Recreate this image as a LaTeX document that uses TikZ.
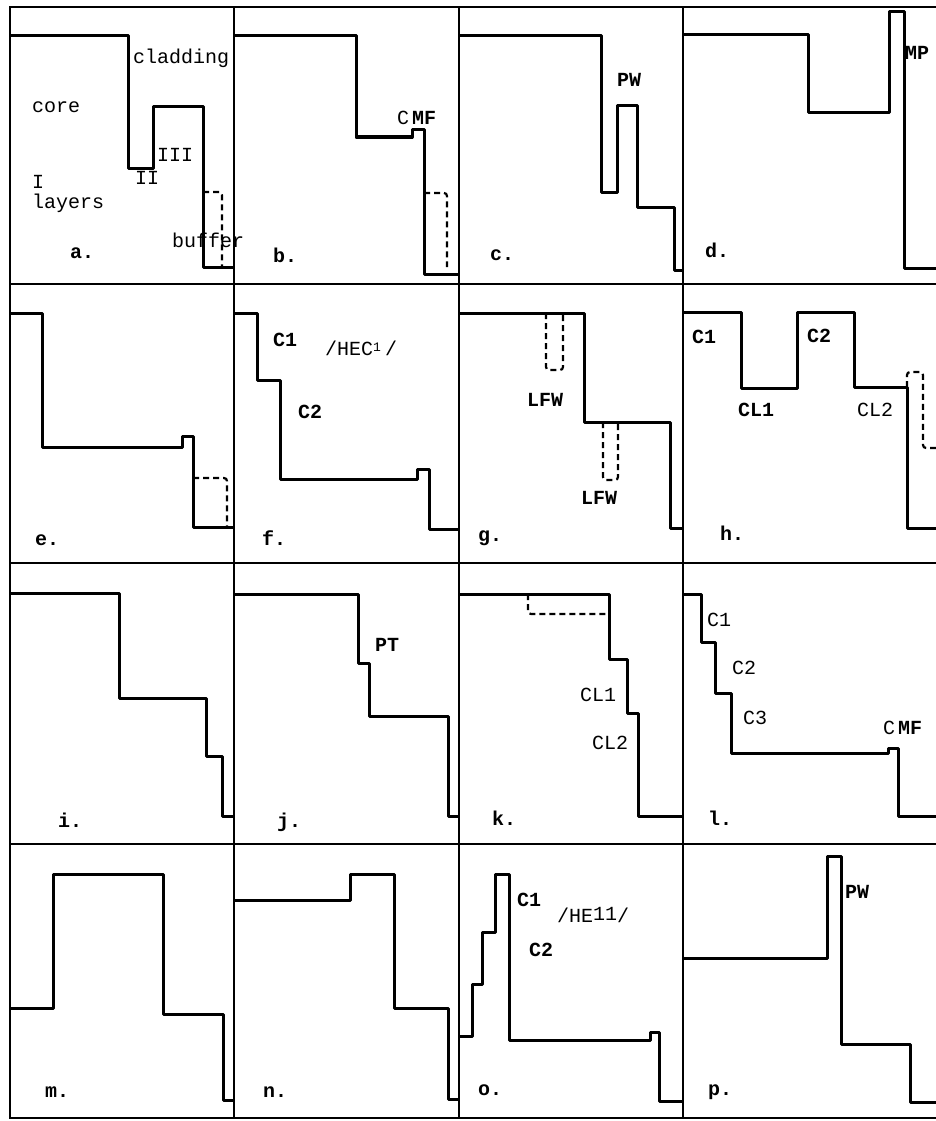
\documentclass[tikz,border=0pt]{standalone}
\usepackage{fontspec}
\setmonofont{Liberation Mono}
\usepackage{tikz}

\begin{document}
\begin{tikzpicture}[
        x=1pt, y=-1pt,
        frame/.style={
          draw=black,
          line width=1.8pt
        },
        profile/.style={
          draw=black,
          line width=3pt,
          line join=round
        },
        layer/.style={
          draw=black,
          line width=2.2pt,
          dash pattern=on 6pt off 4pt,
          rounded corners=3pt
        },
        lbl/.style={
          anchor=west,
          inner sep=0pt,
          font=\ttfamily\fontsize{20}{24}\selectfont
        },
        tag/.style={
          lbl,
          font=\ttfamily\bfseries\fontsize{20}{24}\selectfont
        }
      ]
      \useasboundingbox (0,0) rectangle (936,1121);

      % Grid
      \draw [frame] (936,7) -- (10,7) -- (10,1118) -- (936,1118);
      \draw [frame] (234,7) -- (234,1118);
      \draw [frame] (459,7) -- (459,1118);
      \draw [frame] (683,7) -- (683,1118);
      \draw [frame] (10,284) -- (936,284);
      \draw [frame] (10,563) -- (936,563);
      \draw [frame] (10,844) -- (936,844);

      % Row 1
      \draw [profile] (10,36) -- (128,36) -- (128,168) -- (153,168) -- (153,107) -- (203,107) -- (203,267) -- (234,267);
      \draw [layer] (203,192) -- (222,192) -- (222,267);
      \draw [profile] (234,36) -- (356,36) -- (356,137) -- (412,137) -- (412,130) -- (424,130) -- (424,274) -- (459,274);
      \draw [layer] (424,193) -- (447,193) -- (447,267);
      \draw [profile] (459,36) -- (601,36) -- (601,192) -- (617,192) -- (617,106) -- (637,106) -- (637,207) -- (674,207) -- (674,270) -- (683,270);
      \draw [profile] (683,35) -- (808,35) -- (808,113) -- (889,113) -- (889,12) -- (904,12) -- (904,268) -- (936,268);

      % Row 2
      \draw [profile] (10,313) -- (42,313) -- (42,447) -- (182,447) -- (182,436) -- (193,436) -- (193,527) -- (234,527);
      \draw [layer] (193,478) -- (227,478) -- (227,527);
      \draw [profile] (234,313) -- (257,313) -- (257,380) -- (280,380) -- (280,479) -- (417,479) -- (417,469) -- (429,469) -- (429,529) -- (459,529);
      \draw [profile] (459,313) -- (584,313) -- (584,422) -- (670,422) -- (670,528) -- (683,528);
      \draw [layer] (546,313) -- (546,370) -- (563,370) -- (563,313);
      \draw [layer] (603,422) -- (603,480) -- (618,480) -- (618,422);
      \draw [profile] (683,312) -- (741,312) -- (741,388) -- (797,388) -- (797,312) -- (854,312) -- (854,387) -- (907,387) -- (907,528) -- (936,528);
      \draw [layer] (907,387) -- (907,372) -- (923,372) -- (923,448) -- (936,448);

      % Row 3
      \draw [profile] (10,593) -- (119,593) -- (119,698) -- (206,698) -- (206,756) -- (222,756) -- (222,816) -- (234,816);
      \draw [profile] (234,594) -- (358,594) -- (358,663) -- (369,663) -- (369,716) -- (448,716) -- (448,816) -- (459,816);
      \draw [profile] (459,594) -- (609,594) -- (609,659) -- (627,659) -- (627,713) -- (638,713) -- (638,816) -- (683,816);
      \draw [layer] (528,594) -- (528,614) -- (609,614);
      \draw [profile] (683,594) -- (701,594) -- (701,642) -- (715,642) -- (715,693) -- (731,693) -- (731,753) -- (888,753) -- (888,748) -- (898,748) -- (898,816) -- (936,816);

      % Row 4
      \draw [profile] (10,1008) -- (53,1008) -- (53,874) -- (163,874) -- (163,1014) -- (223,1014) -- (223,1100) -- (234,1100);
      \draw [profile] (234,900) -- (350,900) -- (350,874) -- (394,874) -- (394,1008) -- (448,1008) -- (448,1099) -- (459,1099);
      \draw [profile] (459,1036) -- (472,1036) -- (472,984) -- (482,984) -- (482,932) -- (495,932) -- (495,874) -- (509,874) -- (509,1040) -- (650,1040) -- (650,1032) -- (659,1032) -- (659,1101) -- (683,1101);
      \draw [profile] (683,958) -- (827,958) -- (827,856) -- (841,856) -- (841,1044) -- (910,1044) -- (910,1102) -- (936,1102);

      % Labels
      \node [lbl] (aclad) at (133,58) {cladding};
      \node [lbl] (acore) at (32,107) {core};
      \node [lbl] (athree) at (157,155) {III};
      \node [lbl] (atwo) at (135,178) {II};
      \node [lbl] (aone) at (32,182) {I};
      \node [lbl] (alayers) at (32,203) {layers};
      \node [lbl] (abuffer) at (172,240) {buffer};
      \node [tag] (atag) at (70,253) {a.};

      \node [lbl] (bcmf) at (397,118) {C\kern3pt\textbf{MF}};
      \node [tag] (btag) at (273,255) {b.};

      \node [tag] (cpw) at (617,80) {PW};
      \node [tag] (ctag) at (490,255) {c.};

      \node [tag] (dmp) at (905,53) {MP};
      \node [tag] (dtag) at (705,250) {d.};

      \node [tag] (etag) at (35,540) {e.};

      \node [tag] (fcone) at (273,340) {C1};
      \node [lbl] (fmode) at (325,348) {/HEC\raisebox{4pt}{\fontsize{13}{13}\selectfont 1}\kern4pt/};
      \node [tag] (fctwo) at (298,412) {C2};
      \node [tag] (ftag) at (262,538) {f.};

      \node [tag] (glfwa) at (527,400) {LFW};
      \node [tag] (glfwb) at (581,498) {LFW};
      \node [tag] (gtag) at (478,538) {g.};

      \node [tag] (hcone) at (692,337) {C1};
      \node [tag] (hclone) at (738,410) {CL1};
      \node [tag] (hctwo) at (807,336) {C2};
      \node [lbl] (hcltwo) at (857,410) {CL2};
      \node [tag] (htag) at (720,533) {h.};

      \node [tag] (itag) at (58,820) {i.};

      \node [tag] (jpt) at (375,645) {PT};
      \node [tag] (jtag) at (277,822) {j.};

      \node [lbl] (kclone) at (580,695) {CL1};
      \node [lbl] (kcltwo) at (592,743) {CL2};
      \node [tag] (ktag) at (492,818) {k.};

      \node [lbl] (lcone) at (707,620) {C1};
      \node [lbl] (lctwo) at (732,668) {C2};
      \node [lbl] (lcthree) at (743,718) {C3};
      \node [lbl] (lcmf) at (883,728) {C\kern3pt\textbf{MF}};
      \node [tag] (ltag) at (708,818) {l.};

      \node [tag] (mtag) at (45,1092) {m.};

      \node [tag] (ntag) at (263,1092) {n.};

      \node [tag] (ocone) at (517,900) {C1};
      \node [lbl] (omode) at (557,915) {/HE\raisebox{2pt}{11}/};
      \node [tag] (octwo) at (529,950) {C2};
      \node [tag] (otag) at (478,1090) {o.};

      \node [tag] (ppw) at (845,892) {PW};
      \node [tag] (ptag) at (708,1092) {p.};

    \end{tikzpicture}
\end{document}
